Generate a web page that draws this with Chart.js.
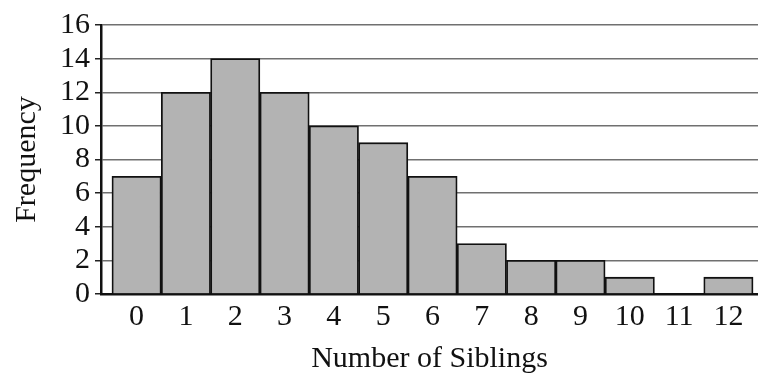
<!DOCTYPE html>
<html>
<head>
<meta charset="utf-8">
<script src="https://cdn.jsdelivr.net/npm/chart.js@4/dist/chart.umd.min.js"></script>
<style>
  html, body { margin: 0; padding: 0; background: #ffffff; }
  #wrap { width: 758px; height: 377px; }
</style>
</head>
<body>
<div id="wrap"><canvas id="siblings-chart"></canvas></div>
<script>
// Data
const siblings = [0, 1, 2, 3, 4, 5, 6, 7, 8, 9, 10, 11, 12]
const frequency = [7, 12, 14, 12, 10, 9, 7, 3, 2, 2, 1, 0, 1]
const yTicks = [0, 2, 4, 6, 8, 10, 12, 14, 16]

const serif = 'Liberation Serif'

const ctx = document.getElementById('siblings-chart').getContext('2d')

new Chart(ctx, {
  type: 'bar',
  data: {
    datasets: [{
      data: siblings.map((s, i) => ({ x: s, y: frequency[i] })),
      backgroundColor: '#b3b3b3',
      borderColor: '#111111',
      borderWidth: 1.8,
      borderSkipped: 'start',
      barPercentage: 1,
      categoryPercentage: 1
    }]
  },
  options: {
    responsive: true,
    maintainAspectRatio: false,
    animation: false,
    layout: { padding: { top: 25, right: 0, left: 0, bottom: 0 } },
    plugins: {
      legend: { display: false },
      tooltip: { enabled: false }
    },
    scales: {
      x: {
        type: 'linear',
        offset: false,
        min: -0.722,
        max: 12.6,
        afterBuildTicks: function(scale) {
          scale.ticks = siblings.map(v => ({ value: v }))
        },
        afterFit: function(scale) {
          scale.height = 83
        },
        grid: { display: false, drawTicks: false },
        border: { display: true, color: '#111111', width: 2.5 },
        ticks: {
          color: '#111111',
          padding: 5,
          maxRotation: 0,
          autoSkip: false,
          font: { family: serif, size: 30 }
        },
        title: {
          display: true,
          text: 'Number of Siblings',
          color: '#111111',
          font: { family: serif, size: 30 },
          padding: { top: 0, bottom: 0 }
        }
      },
      y: {
        min: 0,
        max: 16,
        afterBuildTicks: function(scale) {
          scale.ticks = yTicks.map(v => ({ value: v }))
        },
        afterFit: function(scale) {
          scale.width = 101
        },
        grid: {
          color: '#707070',
          lineWidth: 1.5,
          drawTicks: true,
          tickLength: 6,
          tickColor: '#222222'
        },
        border: { display: true, color: '#111111', width: 2.5 },
        ticks: {
          color: '#111111',
          padding: 5,
          autoSkip: false,
          font: { family: serif, size: 30 }
        },
        title: {
          display: true,
          text: 'Frequency',
          color: '#111111',
          font: { family: serif, size: 30 },
          padding: { top: 9, bottom: 0 }
        }
      }
    }
  }
})
</script>
</body>
</html>
